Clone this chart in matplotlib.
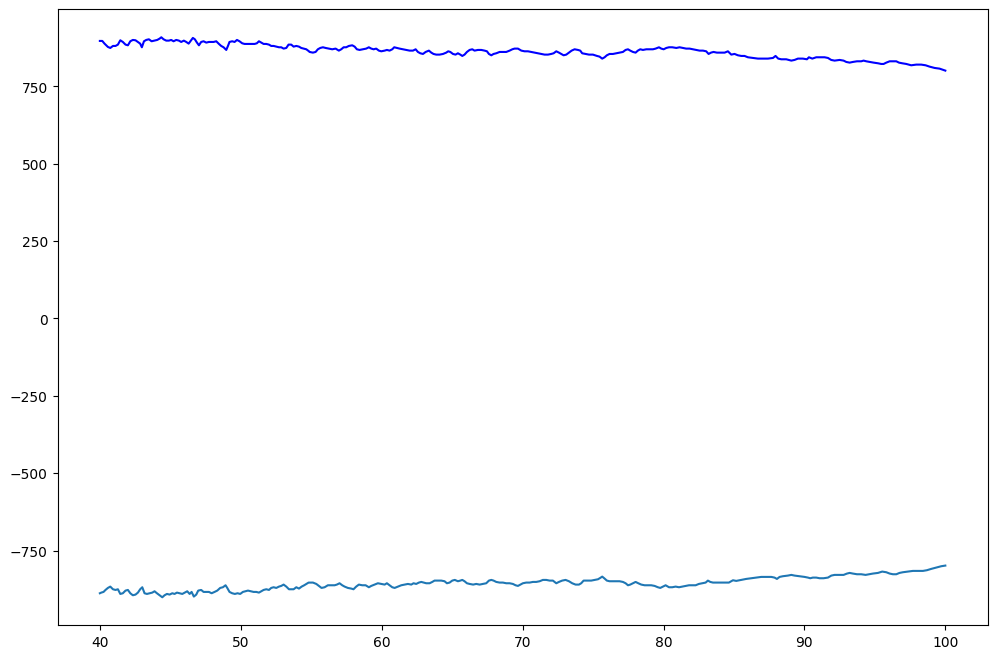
import numpy as np
import matplotlib
matplotlib.use('Agg')
import matplotlib.pyplot as plt

# upper series (drawn in pure blue)
upper_x = [40.0, 40.17, 40.33, 40.57, 40.74, 40.93, 41.11, 41.28, 41.45, 41.63, 41.82, 41.99,
           42.16, 42.34, 42.53, 42.70, 42.86, 42.98, 43.13, 43.29, 43.48, 43.67, 43.88, 44.07,
           44.24, 44.36, 44.52, 44.71, 44.90, 45.06, 45.23, 45.42, 45.61, 45.77, 45.96, 46.13,
           46.30, 46.48, 46.60, 46.74, 46.89, 47.03, 47.19, 47.36, 47.55, 47.74, 47.90, 48.07,
           48.26, 48.45, 48.61, 48.78, 48.97, 49.09, 49.20, 49.39, 49.56, 49.73, 49.91, 50.10,
           50.27, 50.43, 50.62, 50.81, 50.98, 51.14, 51.29, 51.45, 51.62, 51.81, 52.00, 52.16,
           52.33, 52.52, 52.71, 52.87, 53.04, 53.23, 53.39, 53.58, 53.75, 53.94, 54.13, 54.29,
           54.46, 54.65, 54.84, 54.88, 55.12, 55.31, 55.47, 55.64, 55.83, 56.02, 56.25, 56.49,
           56.73, 56.96, 57.13, 57.30, 57.48, 57.67, 57.91, 58.08, 58.24, 58.43, 58.67, 58.90,
           59.09, 59.26, 59.43, 59.61, 59.80, 59.97, 60.21, 60.37, 60.56, 60.75, 60.89, 61.08,
           61.27, 61.51, 61.74, 61.98, 62.22, 62.41, 62.57, 62.74, 62.93, 63.12, 63.35, 63.52,
           63.68, 63.87, 64.11, 64.35, 64.58, 64.72, 64.87, 65.06, 65.24, 65.41, 65.58, 65.72,
           65.88, 66.05, 66.24, 66.43, 66.59, 66.83, 67.07, 67.30, 67.47, 67.61, 67.78, 67.94,
           68.13, 68.37, 68.60, 68.84, 69.08, 69.27, 69.43, 69.67, 69.91, 70.14, 70.38, 70.61,
           70.85, 71.09, 71.32, 71.56, 71.80, 72.03, 72.20, 72.39, 72.58, 72.74, 72.91, 73.10,
           73.29, 73.48, 73.69, 73.93, 74.09, 74.23, 74.47, 74.71, 74.99, 75.28, 75.46, 75.65,
           75.82, 75.98, 76.17, 76.41, 76.65, 76.88, 77.12, 77.31, 77.48, 77.64, 77.83, 78.02,
           78.18, 78.35, 78.54, 78.78, 79.01, 79.25, 79.44, 79.68, 79.84, 80.01, 80.20, 80.39,
           80.62, 80.91, 81.14, 81.38, 81.61, 81.85, 82.09, 82.33, 82.56, 82.80, 83.03, 83.20,
           83.37, 83.55, 83.79, 84.03, 84.34, 84.57, 84.81, 85.04, 85.28, 85.52, 85.75, 85.99,
           86.35, 86.70, 87.06, 87.41, 87.77, 87.95, 88.14, 88.36, 88.71, 89.07, 89.30, 89.54,
           89.89, 90.18, 90.32, 90.56, 90.84, 91.08, 91.43, 91.67, 91.90, 92.14, 92.50, 92.78,
           92.97, 93.21, 93.44, 93.73, 94.03, 94.20, 94.39, 94.63, 94.91, 95.22, 95.45, 95.62,
           95.81, 96.05, 96.28, 96.52, 96.71, 96.94, 97.23, 97.58, 97.94, 98.29, 98.60, 98.88,
           99.24, 99.59, 100.0]
upper_y = [896.6, 896.6, 887.9, 877.2, 873.9, 880.4, 880.4, 884.7, 898.7, 893.3, 884.7, 882.5,
           895.5, 899.8, 898.7, 893.3, 887.9, 876.1, 895.5, 899.8, 901.9, 895.5, 897.6, 899.8,
           904.1, 908.4, 901.9, 897.6, 897.6, 899.8, 895.5, 899.8, 897.6, 893.3, 897.6, 893.3,
           887.9, 898.7, 906.3, 901.9, 891.2, 882.5, 893.3, 895.5, 891.2, 893.3, 893.3, 893.3,
           895.5, 886.9, 880.4, 876.1, 867.5, 880.4, 893.3, 895.5, 893.3, 899.8, 895.5, 889.0,
           886.9, 886.9, 886.9, 886.9, 886.9, 889.0, 895.5, 891.2, 886.9, 886.9, 884.7, 880.4,
           880.4, 878.2, 876.1, 876.1, 871.8, 873.9, 884.7, 884.7, 878.2, 880.4, 878.2, 873.9,
           871.8, 869.6, 863.1, 861.0, 858.8, 861.0, 869.6, 873.9, 876.1, 873.9, 871.8, 869.6,
           871.8, 865.3, 869.6, 876.1, 876.1, 880.4, 882.5, 878.2, 869.6, 867.5, 869.6, 871.8,
           876.1, 871.8, 869.6, 871.8, 865.3, 863.1, 865.3, 867.5, 865.3, 869.6, 876.1, 873.9,
           871.8, 869.6, 867.5, 865.3, 865.3, 869.6, 861.0, 856.7, 854.5, 861.0, 865.3, 858.8,
           854.5, 852.4, 852.4, 854.5, 858.8, 863.1, 861.0, 854.5, 852.4, 856.7, 852.4, 848.1,
           852.4, 861.0, 867.5, 869.6, 865.3, 867.5, 867.5, 865.3, 863.1, 854.5, 850.2, 854.5,
           856.7, 861.0, 861.0, 861.0, 865.3, 869.6, 871.8, 871.8, 865.3, 863.1, 863.1, 861.0,
           858.8, 856.7, 854.5, 852.4, 852.4, 854.5, 856.7, 863.1, 858.8, 854.5, 850.2, 852.4,
           858.8, 865.3, 869.6, 867.5, 865.3, 856.7, 854.5, 852.4, 852.4, 848.1, 845.9, 839.4,
           843.8, 850.2, 854.5, 854.5, 856.7, 858.8, 861.0, 867.5, 869.6, 865.3, 861.0, 858.8,
           865.3, 869.6, 867.5, 869.6, 869.6, 869.6, 871.8, 876.1, 871.8, 869.6, 873.9, 876.1,
           876.1, 873.9, 876.1, 873.9, 871.8, 871.8, 869.6, 867.5, 865.3, 865.3, 863.1, 854.5,
           858.8, 861.0, 858.8, 858.8, 858.8, 863.1, 852.4, 854.6, 850.2, 848.1, 848.1, 843.8,
           841.6, 839.5, 839.5, 839.5, 841.6, 848.1, 839.5, 837.3, 837.3, 833.0, 835.2, 839.5,
           839.5, 837.3, 843.8, 839.5, 843.8, 843.8, 843.8, 841.6, 835.2, 833.0, 835.2, 833.0,
           828.7, 826.5, 828.7, 830.8, 830.8, 833.0, 830.8, 828.7, 826.5, 824.4, 822.2, 822.2,
           826.5, 830.8, 830.8, 830.8, 826.5, 824.4, 822.2, 817.9, 820.1, 820.1, 817.9, 813.6,
           809.3, 807.1, 800.7]

# lower series (default colour)
lower_x = [40.0, 40.10, 40.26, 40.40, 40.57, 40.74, 40.93, 41.11, 41.28, 41.45, 41.63, 41.82,
           41.99, 42.16, 42.34, 42.53, 42.70, 42.86, 43.01, 43.17, 43.34, 43.53, 43.72, 43.88,
           44.05, 44.24, 44.43, 44.59, 44.76, 44.95, 45.14, 45.30, 45.47, 45.66, 45.85, 46.03,
           46.20, 46.37, 46.51, 46.67, 46.84, 46.98, 47.19, 47.36, 47.55, 47.74, 47.93, 48.14,
           48.33, 48.54, 48.73, 48.92, 49.04, 49.20, 49.39, 49.58, 49.77, 49.96, 50.15, 50.34,
           50.51, 50.70, 50.91, 51.10, 51.29, 51.45, 51.62, 51.81, 52.00, 52.16, 52.33, 52.52,
           52.71, 52.87, 53.04, 53.23, 53.42, 53.58, 53.75, 53.94, 54.13, 54.32, 54.50, 54.65,
           54.81, 55.12, 55.36, 55.55, 55.73, 55.95, 56.18, 56.42, 56.66, 56.82, 57.01, 57.20,
           57.37, 57.60, 57.84, 58.00, 58.19, 58.38, 58.62, 58.86, 59.09, 59.26, 59.50, 59.73,
           59.97, 60.21, 60.37, 60.56, 60.75, 60.92, 61.15, 61.39, 61.63, 61.86, 62.10, 62.26,
           62.45, 62.64, 62.81, 62.97, 63.16, 63.40, 63.59, 63.75, 63.99, 64.23, 64.46, 64.63,
           64.82, 65.01, 65.19, 65.41, 65.58, 65.72, 65.88, 66.05, 66.24, 66.49, 66.71, 66.95,
           67.18, 67.42, 67.61, 67.78, 67.94, 68.13, 68.37, 68.60, 68.84, 69.08, 69.31, 69.50,
           69.67, 70.02, 70.26, 70.50, 70.73, 70.97, 71.21, 71.44, 71.68, 71.92, 72.15, 72.39,
           72.58, 72.81, 73.05, 73.29, 73.52, 73.76, 74.00, 74.16, 74.33, 74.57, 74.87, 75.11,
           75.35, 75.51, 75.65, 75.82, 75.98, 76.17, 76.41, 76.65, 76.88, 77.12, 77.31, 77.48,
           77.64, 77.83, 78.02, 78.21, 78.42, 78.66, 78.89, 79.13, 79.37, 79.60, 79.77, 79.96,
           80.15, 80.39, 80.62, 80.86, 81.10, 81.33, 81.57, 81.81, 82.04, 82.28, 82.51, 82.75,
           82.99, 83.15, 83.32, 83.51, 83.74, 83.98, 84.22, 84.45, 84.64, 84.93, 85.16, 85.40,
           85.64, 85.87, 86.23, 86.58, 86.94, 87.29, 87.65, 87.88, 88.05, 88.24, 88.47, 88.83,
           89.07, 89.30, 89.66, 90.01, 90.25, 90.41, 90.60, 90.84, 91.08, 91.36, 91.67, 91.91,
           92.14, 92.50, 92.78, 93.02, 93.21, 93.44, 93.73, 94.03, 94.34, 94.58, 94.86, 95.22,
           95.52, 95.81, 96.05, 96.28, 96.52, 96.75, 96.99, 97.35, 97.70, 98.06, 98.41, 98.69,
           99.00, 99.36, 99.71, 100.0]
lower_y = [-887.9, -885.8, -883.6, -877.2, -870.7, -866.4, -875.0, -877.2, -875.0, -890.1, -887.9, -879.3,
           -877.2, -887.9, -894.4, -892.2, -885.8, -875.0, -868.5, -887.9, -890.1, -887.9, -885.8, -881.5,
           -887.9, -894.4, -900.9, -894.4, -890.1, -892.2, -887.9, -890.1, -885.8, -887.9, -890.1, -885.8,
           -881.5, -890.1, -883.6, -898.7, -892.2, -879.3, -877.2, -883.6, -883.6, -883.6, -887.9, -883.6,
           -879.3, -870.7, -868.5, -862.1, -870.7, -883.6, -887.9, -890.1, -887.9, -890.1, -883.6, -881.5,
           -879.3, -881.5, -883.6, -883.6, -885.8, -881.5, -877.2, -875.0, -877.2, -870.7, -868.5, -870.7,
           -866.4, -864.2, -859.9, -866.4, -875.0, -875.0, -875.0, -868.5, -872.8, -866.4, -862.1, -857.8,
           -853.5, -853.4, -857.8, -864.2, -870.7, -868.5, -862.1, -862.1, -862.1, -859.9, -855.6, -862.1,
           -866.4, -870.7, -872.8, -875.0, -866.4, -859.9, -862.1, -862.1, -868.5, -864.2, -859.9, -855.6,
           -857.8, -859.9, -855.6, -862.1, -868.5, -870.7, -866.4, -862.1, -859.9, -857.8, -859.9, -855.6,
           -857.8, -853.4, -851.3, -853.4, -855.6, -855.6, -851.3, -847.0, -847.0, -847.0, -849.1, -855.6,
           -853.4, -847.0, -844.8, -849.1, -847.0, -844.8, -849.1, -855.6, -857.8, -859.9, -857.8, -859.9,
           -857.8, -855.6, -847.0, -844.8, -847.0, -851.3, -853.4, -853.4, -855.6, -855.6, -857.8, -862.1,
           -864.2, -855.6, -853.4, -853.4, -851.3, -851.3, -849.1, -844.8, -844.8, -847.0, -847.0, -855.6,
           -851.3, -847.0, -844.8, -849.1, -855.6, -859.9, -859.9, -855.6, -847.0, -847.0, -847.0, -844.8,
           -842.7, -838.4, -834.1, -840.5, -847.0, -849.1, -849.1, -849.1, -849.1, -851.3, -855.6, -862.1,
           -859.9, -855.6, -851.3, -855.6, -859.9, -862.1, -862.1, -862.1, -864.2, -868.5, -870.7, -866.4,
           -862.1, -868.5, -868.5, -866.4, -868.5, -866.4, -864.2, -862.1, -862.1, -862.1, -857.8, -855.6,
           -853.4, -847.0, -851.3, -853.4, -853.4, -853.4, -853.4, -853.4, -853.4, -845.9, -848.0, -845.9,
           -843.7, -841.6, -839.4, -837.3, -835.1, -835.1, -835.1, -837.3, -841.6, -835.1, -832.9, -830.8,
           -828.6, -830.8, -832.9, -835.1, -837.3, -839.4, -837.3, -837.3, -839.4, -839.4, -837.3, -830.8,
           -828.6, -828.6, -828.6, -824.3, -822.2, -824.3, -826.5, -826.5, -828.6, -826.5, -824.3, -822.2,
           -817.9, -820.0, -824.3, -826.5, -826.5, -822.2, -820.0, -817.9, -815.7, -815.7, -815.7, -813.5,
           -809.2, -804.9, -800.6, -798.5]

fig, ax = plt.subplots(figsize=(12, 8))
ax.plot(lower_x, lower_y, color='C0')
ax.plot(upper_x, upper_y, color='blue')
ax.set_yticks([-750, -500, -250, 0, 250, 500, 750])

plt.savefig('out.png', dpi=100, bbox_inches='tight')
